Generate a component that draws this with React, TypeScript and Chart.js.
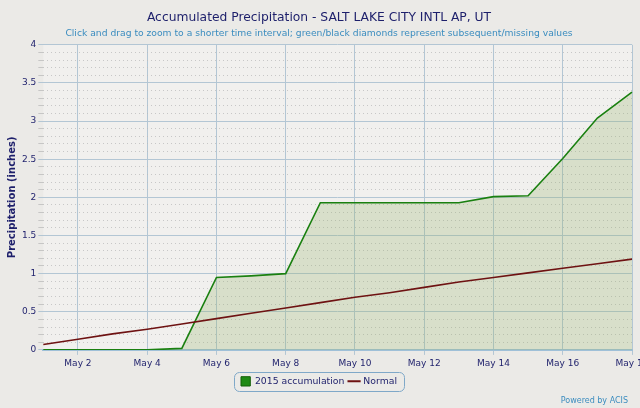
import React, { useEffect, useRef } from "react";
import { Chart, registerables } from "chart.js";

Chart.register(...registerables);

const days = [
  "May 1", "May 2", "May 3", "May 4", "May 5", "May 6", "May 7", "May 8", "May 9",
  "May 10", "May 11", "May 12", "May 13", "May 14", "May 15", "May 16", "May 17", "May 18",
];
const accum2015 = [0, 0, 0, 0, 0.02, 0.95, 0.97, 1.0, 1.93, 1.93, 1.93, 1.93, 1.93, 2.01, 2.02, 2.51, 3.04, 3.38];
const normal = [0.07, 0.14, 0.21, 0.27, 0.34, 0.41, 0.48, 0.55, 0.62, 0.69, 0.75, 0.82, 0.89, 0.95, 1.01, 1.07, 1.13, 1.19];

const titleText = "Accumulated Precipitation - SALT LAKE CITY INTL AP, UT";
const subtitleText = "Click and drag to zoom to a shorter time interval; green/black diamonds represent subsequent/missing values";
const yTitle = "Precipitation (inches)";
const seriesNames = ["2015 accumulation", "Normal"];

const FONT = "'DejaVu Sans', sans-serif";
const NAVY = "#1d1f6b";
const GRID = "#b3c6d4";

const bgPlugin = {
  id: "plotBg",
  beforeDraw(chart: any) {
    const { ctx, chartArea } = chart;
    ctx.save();
    ctx.fillStyle = "#f1f0ee";
    ctx.fillRect(chartArea.left, chartArea.top, chartArea.right - chartArea.left, chartArea.bottom - chartArea.top);
    ctx.restore();
  },
};

const legendBoxPlugin = {
  id: "legendBox",
  afterDraw(chart: any) {
    const lg = chart.legend;
    if (!lg || !lg.legendHitBoxes || !lg.legendHitBoxes.length) return;
    let l = Infinity, t = Infinity, r = -Infinity, b = -Infinity;
    for (const h of lg.legendHitBoxes) {
      l = Math.min(l, h.left);
      t = Math.min(t, h.top);
      r = Math.max(r, h.left + h.width);
      b = Math.max(b, h.top + h.height);
    }
    const ctx = chart.ctx;
    ctx.save();
    ctx.strokeStyle = "#7fa8c8";
    ctx.lineWidth = 1;
    ctx.beginPath();
    (ctx as any).roundRect(Math.round(l - 7) + 0.5, Math.round(t - 5) + 0.5, Math.round(r - l + 14), Math.round(b - t + 10), 5);
    ctx.stroke();
    ctx.restore();
  },
};

export default function App() {
  const ref = useRef<HTMLCanvasElement | null>(null);

  useEffect(() => {
    if (!ref.current) return;
    const chart = new Chart(ref.current, {
      type: "line",
      data: {
        labels: days,
        datasets: [
          {
            label: seriesNames[0],
            data: accum2015,
            borderColor: "#1a8010",
            backgroundColor: "rgba(150,180,110,0.28)",
            borderWidth: 1.6,
            pointRadius: 0,
            fill: "origin",
            tension: 0,
            order: 2,
          },
          {
            label: seriesNames[1],
            data: normal,
            borderColor: "#6e1212",
            backgroundColor: "#6e1212",
            borderWidth: 1.6,
            pointRadius: 0,
            fill: false,
            tension: 0,
            order: 1,
          },
        ],
      },
      options: {
        animation: false,
        responsive: true,
        maintainAspectRatio: false,
        layout: { padding: { left: 6, right: 8, top: 6, bottom: 12 } },
        plugins: {
          tooltip: { enabled: false },
          title: {
            display: true,
            text: titleText,
            color: NAVY,
            font: { family: FONT, size: 12.3, weight: "normal" },
            padding: { top: 4, bottom: 3 },
          },
          subtitle: {
            display: true,
            text: subtitleText,
            color: "#3a8cbf",
            font: { family: FONT, size: 9.2 },
            padding: { top: 0, bottom: 6 },
          },
          legend: {
            position: "bottom",
            labels: {
              color: NAVY,
              font: { family: FONT, size: 9.3 },
              boxWidth: 12,
              boxHeight: 12,
              padding: 5,
              usePointStyle: true,
              generateLabels: () => [
                {
                  text: seriesNames[0],
                  fillStyle: "#1f8a14",
                  strokeStyle: "#146008",
                  lineWidth: 1,
                  pointStyle: "rect",
                  fontColor: NAVY,
                  datasetIndex: 0,
                  hidden: false,
                },
                {
                  text: seriesNames[1],
                  fillStyle: "#6e1212",
                  strokeStyle: "#6e1212",
                  lineWidth: 2,
                  pointStyle: "line",
                  fontColor: NAVY,
                  datasetIndex: 1,
                  hidden: false,
                },
              ],
            },
          },
        },
        scales: {
          x: {
            type: "category",
            offset: false,
            afterFit: (s: any) => {
              s.paddingRight = 0;
            },
            grid: {
              color: (c: any) => (c.index % 2 === 1 ? GRID : "rgba(0,0,0,0)"),
              lineWidth: 1,
              drawTicks: true,
              tickLength: 5,
            },
            border: { display: true, color: "#9fc0d8", width: 2 },
            ticks: {
              autoSkip: false,
              maxRotation: 0,
              color: NAVY,
              font: { family: FONT, size: 9 },
              padding: 3,
              callback: (_v: any, i: number) => (i % 2 === 1 ? days[i] : ""),
            },
          },
          y: {
            min: 0,
            max: 4,
            title: {
              display: true,
              text: yTitle,
              color: NAVY,
              font: { family: FONT, size: 10, weight: "bold" },
              padding: { top: 0, bottom: 2 },
            },
            grid: {
              color: (c: any) => {
                const v = Math.round((c.tick ? c.tick.value : 0) * 10);
                return v % 5 === 0 ? GRID : "#bdbdbd";
              },
              lineWidth: (c: any) => {
                const v = Math.round((c.tick ? c.tick.value : 0) * 10);
                return v % 5 === 0 ? 1 : 0.8;
              },
              drawTicks: true,
              tickLength: 5,
            },
            border: {
              display: false,
              dash: (c: any) => {
                const v = Math.round((c.tick ? c.tick.value : 0) * 10);
                return v % 5 === 0 ? [] : [1, 3];
              },
            },
            ticks: {
              stepSize: 0.1,
              autoSkip: false,
              color: NAVY,
              font: { family: FONT, size: 9 },
              padding: 2,
              callback: (v: any) => {
                const n = Math.round(Number(v) * 10);
                return n % 5 === 0 ? String(n / 10) : "";
              },
            },
          },
        },
      },
      plugins: [bgPlugin, legendBoxPlugin],
    } as any);
    return () => chart.destroy();
  }, []);

  return (
    <div
      style={{
        position: "fixed",
        left: 0,
        top: 0,
        width: 640,
        height: 408,
        background: "#ebeae7",
        overflow: "hidden",
      }}
    >
      <canvas ref={ref} />
      <div
        style={{
          position: "absolute",
          right: 12,
          bottom: 3,
          fontFamily: FONT,
          fontSize: 8,
          color: "#3a8cbf",
        }}
      >
        Powered by ACIS
      </div>
    </div>
  );
}
